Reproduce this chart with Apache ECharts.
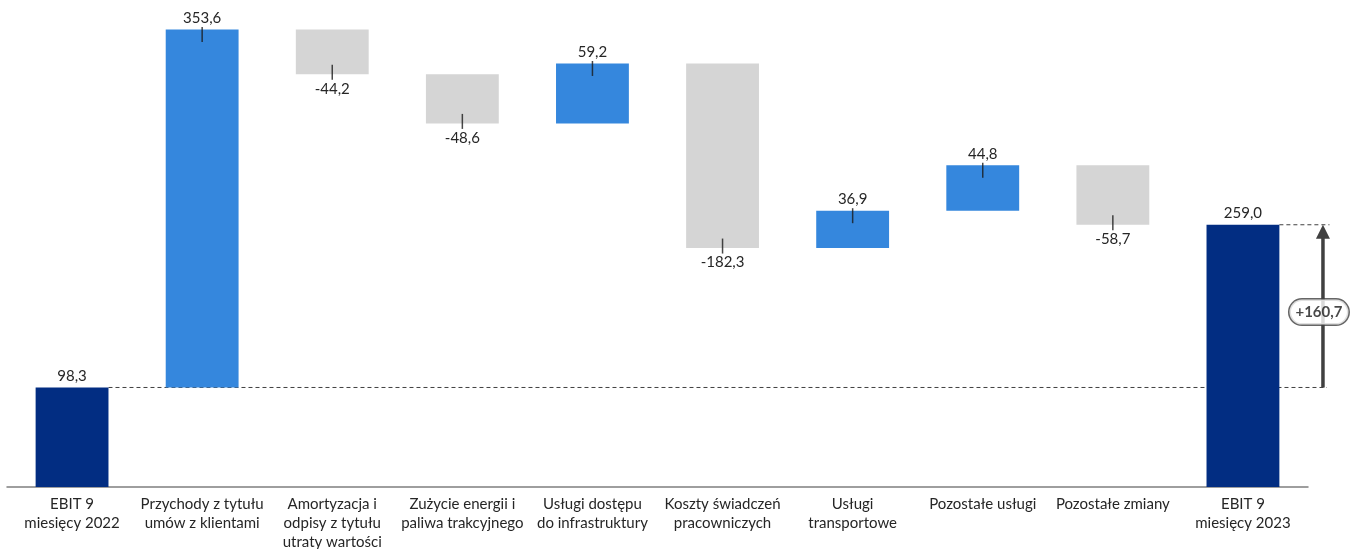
<!DOCTYPE html>
<html>
<head>
<meta charset="utf-8">
<script src="https://cdn.jsdelivr.net/npm/echarts@6/dist/echarts.min.js"></script>
<style>
  html, body { margin: 0; padding: 0; background: #fff; }
  #main { width: 1361px; height: 549px; }
</style>
</head>
<body>
<div id="main"></div>
<script>
var categories = [
  'EBIT 9\nmiesięcy 2022',
  'Przychody z tytułu\numów z klientami',
  'Amortyzacja i\nodpisy z tytułu\nutraty wartości',
  'Zużycie energii i\npaliwa trakcyjnego',
  'Usługi dostępu\ndo infrastruktury',
  'Koszty świadczeń\npracowniczych',
  'Usługi\ntransportowe',
  'Pozostałe usługi',
  'Pozostałe zmiany',
  'EBIT 9\nmiesięcy 2023'
];
var values = [98.3, 353.6, -44.2, -48.6, 59.2, -182.3, 36.9, 44.8, -58.7, 259.0];
var isTotal = [true, false, false, false, false, false, false, false, false, true];
var changeLabel = ['+160,7'];

var NAVY = '#022d82', BLUE = '#3587dd', GREY = '#d5d5d5', DARK = '#404040', TXT = '#262626';
var font = 'Lato, "Open Sans", sans-serif';
var halfBar = 0.28;

// uklad: glowny grid + drugi (szerszy) grid na strzalke, z ta sama skala
var W = 1361, gLeft = 7, gRight = 53, gRight2 = 12;
var unitPx = (W - gLeft - gRight) / categories.length;
var xMax2 = -0.5 + (W - gLeft - gRight2) / unitPx;

function fmt(v) { return v.toFixed(1).replace('.', ','); }

// waterfall: niewidoczna podstawa + widoczny slupek
var base = [], height = [], ticks = [];
var run = 0;
for (var i = 0; i < values.length; i++) {
  var v = values[i];
  if (isTotal[i]) {
    base.push(0);
    height.push({ value: v, itemStyle: { color: NAVY }, label: { position: 'top' } });
    run = v;
  } else if (v >= 0) {
    base.push(run);
    height.push({ value: v, itemStyle: { color: BLUE }, label: { position: 'top' } });
    run += v;
    ticks.push({ value: [i, run], symbolOffset: [0, 5] });
  } else {
    base.push(run + v);
    height.push({ value: -v, itemStyle: { color: GREY }, label: { position: 'bottom', distance: 7 } });
    ticks.push({ value: [i, run + v], symbolOffset: [0, -2] });
    run += v;
  }
}
var startVal = values[0], endVal = values[values.length - 1];
var last = values.length - 1;
var arrowX = last + 0.615;

var chart = echarts.init(document.getElementById('main'));
chart.setOption({
  animation: false,
  textStyle: { fontFamily: font },
  grid: [
    { left: gLeft, right: gRight, top: 1, bottom: 62, outerBoundsMode: 'none', containLabel: false },
    { left: gLeft, right: gRight2, top: 1, bottom: 62, outerBoundsMode: 'none', containLabel: false }
  ],
  xAxis: [{
    type: 'category',
    gridIndex: 0,
    data: categories,
    axisTick: { show: false },
    axisLine: { lineStyle: { color: '#7f7f7f', width: 1.5 } },
    axisLabel: { interval: 0, color: TXT, fontSize: 15, lineHeight: 19, margin: 8, fontFamily: font }
  }, {
    type: 'value', gridIndex: 1, min: -0.5, max: xMax2, show: false
  }],
  yAxis: [
    { type: 'value', gridIndex: 0, min: 0, max: 480, show: false },
    { type: 'value', gridIndex: 1, min: 0, max: 480, show: false }
  ],
  series: [{
    type: 'bar',
    stack: 'w',
    z: 1,
    barWidth: '56%',
    itemStyle: { color: 'transparent' },
    data: base
  }, {
    type: 'bar',
    stack: 'w',
    z: 3,
    barWidth: '56%',
    label: {
      show: true, color: TXT, fontSize: 15, distance: 4, fontFamily: font,
      formatter: function (p) { return fmt(values[p.dataIndex]); }
    },
    data: height
  }, {
    type: 'scatter',
    z: 4,
    symbol: 'rect',
    symbolSize: [1.5, 15],
    itemStyle: { color: '#1a1a1a' },
    data: ticks
  }, {
    type: 'line',
    xAxisIndex: 1, yAxisIndex: 1,
    z: 2,
    symbol: 'none',
    lineStyle: { type: [4, 3], color: DARK, width: 1 },
    data: [[halfBar, startVal], [arrowX + 0.03, startVal]]
  }, {
    type: 'line',
    xAxisIndex: 1, yAxisIndex: 1,
    z: 2,
    symbol: 'none',
    lineStyle: { type: [4, 3], color: DARK, width: 1 },
    data: [[last + halfBar, endVal], [arrowX + 0.05, endVal]]
  }, {
    type: 'line',
    xAxisIndex: 1, yAxisIndex: 1,
    z: 5,
    lineStyle: { color: DARK, width: 3.5 },
    itemStyle: { color: DARK },
    data: [
      { value: [arrowX, startVal], symbol: 'none' },
      { value: [arrowX, endVal - 8], symbol: 'triangle', symbolSize: [14, 14], symbolOffset: [0, -1] }
    ]
  }, {
    type: 'scatter',
    xAxisIndex: 1, yAxisIndex: 1,
    z: 6,
    symbolSize: 0,
    data: [[arrowX, (startVal + endVal) / 2]],
    label: {
      show: true, position: 'inside', offset: [-4, 6],
      formatter: changeLabel[0],
      color: '#1a1a1a', fontWeight: 'bold', fontSize: 15, fontFamily: font,
      backgroundColor: '#fff', borderColor: DARK, borderWidth: 1.5,
      borderRadius: 14, padding: [5, 6]
    }
  }]
});
</script>
</body>
</html>
